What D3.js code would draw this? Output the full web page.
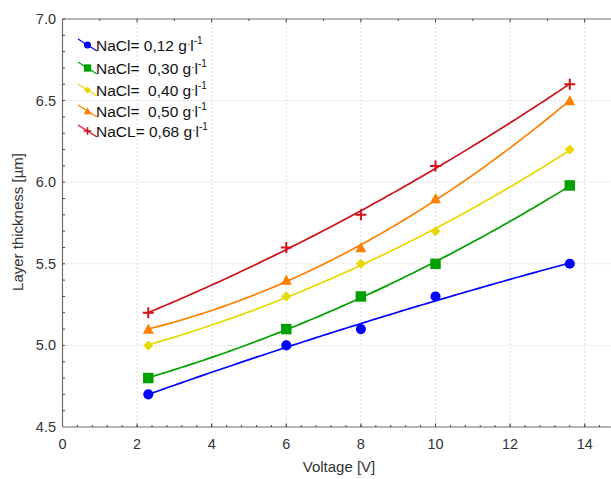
<!DOCTYPE html>
<html lang="en">
<head>
<meta charset="UTF-8">
<title>Layer thickness vs Voltage</title>
<style>
  * { margin: 0; padding: 0; }
  body { background: #fff; width: 611px; height: 479px; overflow: hidden; font-family: "Liberation Sans", Arial, sans-serif; }
  svg { display: block; }
  .tick-label { font-size: 14.5px; fill: #333; }
  .title { font-size: 15px; fill: #333; }
  .legend text { font-size: 15.5px; fill: #111; }
  .grid line { stroke: #dcdcdc; stroke-dasharray: 2,2; stroke-width: 1; }
</style>
</head>
<body>
<svg id="svg" width="611" height="479"></svg>
<script src="https://d3js.org/d3.v7.min.js"></script>
<script>
// Data
const voltage = [2.3, 6, 8, 10, 13.6];
const nacl012 = [4.7, 5.0, 5.1, 5.3, 5.5];
const nacl030 = [4.8, 5.1, 5.3, 5.5, 5.98];
const nacl040 = [5.0, 5.3, 5.5, 5.7, 6.2];
const nacl050 = [5.1, 5.4, 5.6, 5.9, 6.5];
const nacl068 = [5.2, 5.6, 5.8, 6.1, 6.6];
const xTicks = [0, 2, 4, 6, 8, 10, 12, 14];
const yTicks = [4.5, 5.0, 5.5, 6.0, 6.5, 7.0];

const series = [
  { name: 'NaCl= 0,12 ', values: nacl012, color: '#0000ff', symbol: 'circle' },
  { name: 'NaCl=  0,30 ', values: nacl030, color: '#00a000', symbol: 'square' },
  { name: 'NaCl=  0,40 ', values: nacl040, color: '#e8d800', symbol: 'diamond' },
  { name: 'NaCl=  0,50 ', values: nacl050, color: '#ff7f00', symbol: 'triangle' },
  { name: 'NaCL= 0,68 ', values: nacl068, color: '#d01018', symbol: 'plus' }
];

const svg = d3.select('#svg');
const x = d3.scaleLinear().domain([0, 14]).range([62.5, 584.7]);
const y = d3.scaleLinear().domain([4.5, 7]).range([427, 19]);
const pLeft = x(0), pRight = 611, pTop = y(7), pBottom = y(4.5);

// grid
const grid = svg.append('g').attr('class', 'grid');
grid.selectAll('.gx').data(xTicks.slice(1)).join('line')
  .attr('x1', d => x(d)).attr('x2', d => x(d)).attr('y1', pTop).attr('y2', pBottom);
grid.selectAll('.gy').data(yTicks.slice(1, -1)).join('line')
  .attr('x1', pLeft).attr('x2', pRight).attr('y1', d => y(d)).attr('y2', d => y(d));

// axes frame
const axisColor = '#6e6e6e';
svg.append('line').attr('x1', pLeft).attr('x2', pRight).attr('y1', pTop).attr('y2', pTop).attr('stroke', axisColor).attr('stroke-width', 1.2);
svg.append('line').attr('x1', pLeft).attr('x2', pRight).attr('y1', pBottom).attr('y2', pBottom).attr('stroke', axisColor).attr('stroke-width', 1.2);
svg.append('line').attr('x1', pLeft).attr('x2', pLeft).attr('y1', pTop).attr('y2', pBottom).attr('stroke', axisColor).attr('stroke-width', 1.2);

// bottom axis: major ticks + minor every 0.4
const bottomMinor = d3.range(0.4, 15, 0.4).filter(v => x(v) < pRight);
svg.append('g').selectAll('line').data(bottomMinor).join('line')
  .attr('x1', d => x(d)).attr('x2', d => x(d)).attr('y1', pBottom).attr('y2', pBottom - 2)
  .attr('stroke', '#444');
svg.append('g').selectAll('line').data(xTicks.slice(1)).join('line')
  .attr('x1', d => x(d)).attr('x2', d => x(d)).attr('y1', pBottom).attr('y2', pBottom - 3.5)
  .attr('stroke', '#444');
// top axis ticks every 1
const topTicks = d3.range(1, 15, 1);
svg.append('g').selectAll('line').data(topTicks).join('line')
  .attr('x1', d => x(d)).attr('x2', d => x(d)).attr('y1', pTop).attr('y2', d => pTop + (d % 2 === 0 ? 3.5 : 2))
  .attr('stroke', '#444');
// left axis minor every 0.1
const leftMinor = d3.range(4.6, 7.0, 0.1);
svg.append('g').selectAll('line').data(leftMinor).join('line')
  .attr('x1', pLeft).attr('x2', pLeft + 2.5).attr('y1', d => y(d)).attr('y2', d => y(d))
  .attr('stroke', '#444');

// tick labels
svg.append('g').selectAll('text').data(xTicks).join('text')
  .attr('class', 'tick-label').attr('x', d => x(d)).attr('y', 449)
  .attr('text-anchor', 'middle').text(d => d);
svg.append('g').selectAll('text').data(yTicks).join('text')
  .attr('class', 'tick-label').attr('x', 56).attr('y', d => y(d) + 5)
  .attr('text-anchor', 'end').text(d => d.toFixed(1));

// titles
svg.append('text').attr('class', 'title').attr('x', 339).attr('y', 472)
  .attr('text-anchor', 'middle').text('Voltage [V]');
svg.append('text').attr('class', 'title')
  .attr('transform', 'translate(23,222) rotate(-90)')
  .attr('text-anchor', 'middle').text('Layer thickness [µm]');

// quadratic least-squares fit
function quadFit(xs, ys) {
  const n = xs.length;
  let s = [0, 0, 0, 0, 0], t = [0, 0, 0];
  for (let i = 0; i < n; i++) {
    for (let k = 0; k < 5; k++) s[k] += Math.pow(xs[i], k);
    for (let k = 0; k < 3; k++) t[k] += ys[i] * Math.pow(xs[i], k);
  }
  const A = [[s[0], s[1], s[2], t[0]], [s[1], s[2], s[3], t[1]], [s[2], s[3], s[4], t[2]]];
  for (let i = 0; i < 3; i++) {
    for (let j = i + 1; j < 3; j++) {
      const f = A[j][i] / A[i][i];
      for (let k = i; k < 4; k++) A[j][k] -= f * A[i][k];
    }
  }
  const c = [0, 0, 0];
  for (let i = 2; i >= 0; i--) {
    let v = A[i][3];
    for (let k = i + 1; k < 3; k++) v -= A[i][k] * c[k];
    c[i] = v / A[i][i];
  }
  return xv => c[0] + c[1] * xv + c[2] * xv * xv;
}

const symbolFor = {
  circle: d3.symbolCircle, square: d3.symbolSquare, diamond: d3.symbolDiamond,
  triangle: d3.symbolTriangle, plus: d3.symbolCross
};
const symbolSize = { circle: 80, square: 110, diamond: 55, triangle: 75, plus: 110 };

function drawMarker(g, s, px, py, scale) {
  if (s.symbol === 'plus') {
    const h = 5.5 * scale;
    g.append('path').attr('d', `M${px - h},${py}H${px + h}M${px},${py - h}V${py + h}`)
      .attr('stroke', s.color).attr('stroke-width', 2 * Math.max(scale, 0.8)).attr('fill', 'none');
  } else if (s.symbol === 'diamond') {
    const h = 5 * scale;
    g.append('path').attr('d', `M${px},${py - h}L${px + h},${py}L${px},${py + h}L${px - h},${py}Z`)
      .attr('fill', s.color);
  } else if (s.symbol === 'triangle') {
    const h = 5.5 * scale;
    g.append('path').attr('d', `M${px},${py - h}L${px + h},${py + h * 0.85}L${px - h},${py + h * 0.85}Z`)
      .attr('fill', s.color);
  } else {
    g.append('path')
      .attr('d', d3.symbol().type(symbolFor[s.symbol]).size(symbolSize[s.symbol] * scale * scale)())
      .attr('transform', `translate(${px},${py})`).attr('fill', s.color);
  }
}

const line = d3.line().x(d => x(d[0])).y(d => y(d[1])).curve(d3.curveLinear);
const plot = svg.append('g');
series.forEach(s => {
  const f = quadFit(voltage, s.values);
  const xs = d3.range(voltage[0], voltage[voltage.length - 1] + 0.001, 0.1);
  plot.append('path').datum(xs.map(v => [v, f(v)]))
    .attr('d', line).attr('fill', 'none').attr('stroke', s.color).attr('stroke-width', 1.7);
});
series.forEach(s => {
  s.values.forEach((v, i) => drawMarker(plot, s, x(voltage[i]), y(v), 1));
});

// legend
const legendY = [45, 68, 90, 111, 131];
const legend = svg.append('g').attr('class', 'legend');
series.forEach((s, i) => {
  const cy = legendY[i];
  legend.append('line').attr('x1', 78).attr('y1', cy - 6).attr('x2', 97).attr('y2', cy + 6)
    .attr('stroke', s.color).attr('stroke-width', 1.2);
  drawMarker(legend, s, 87.5, cy, 0.7);
  const t = legend.append('text').attr('x', 96).attr('y', cy + 5.5).attr('xml:space', 'preserve');
  t.append('tspan').text(s.name + 'g');
  t.append('tspan').text('·').attr('font-size', 10).attr('dy', -3);
  t.append('tspan').text('l').attr('dy', 3);
  t.append('tspan').text('-1').attr('font-size', 10).attr('dy', -6.5);
});
</script>
</body>
</html>
